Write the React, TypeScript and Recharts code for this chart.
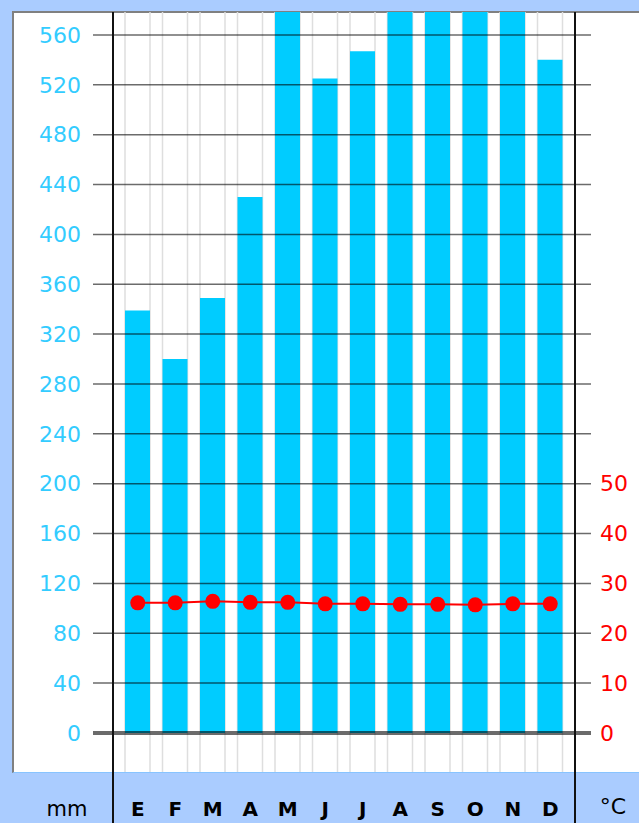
import React from 'react';
import { ComposedChart, Bar, Line, XAxis, YAxis, ReferenceLine } from 'recharts';

const months = ['E', 'F', 'M', 'A', 'M', 'J', 'J', 'A', 'S', 'O', 'N', 'D'];
const rainfall = [339, 300, 349, 430, 640, 525, 547, 620, 650, 700, 660, 540];
const temperature = [26.1, 26.1, 26.4, 26.2, 26.2, 25.9, 25.9, 25.8, 25.8, 25.7, 25.9, 25.9];
const mmTicks = [0, 40, 80, 120, 160, 200, 240, 280, 320, 360, 400, 440, 480, 520, 560];
const tempTicks = [0, 10, 20, 30, 40, 50];
const mmDomain = [-31.3, 578.4];
const tempDomain = [-7.825, 144.6];

const data = months.map((m, i) => ({ key: String(i), month: m, rain: rainfall[i], temp: temperature[i] }));

const EdgeLines = (props: any) => {
  const { x, y, width, height } = props;
  return (
    <g>
      <line x1={x} x2={x} y1={y} y2={y + height} stroke="#dedede" strokeWidth={1.5} />
      <line x1={x + width} x2={x + width} y1={y} y2={y + height} stroke="#dedede" strokeWidth={1.5} />
    </g>
  );
};

const FONT = '"DejaVu Sans", Verdana, sans-serif';

export default function App() {
  return (
    <div style={{ position: 'absolute', left: 0, top: 0, width: 639, height: 823, background: '#aaccff', overflow: 'hidden', fontFamily: FONT }}>
      <div style={{ position: 'absolute', left: 12, top: 11, width: 627, height: 762, background: '#fff', borderTop: '2px solid #808080', borderLeft: '2px solid #808080', borderBottom: '1px solid #88c4ff', boxSizing: 'border-box' }} />
      <div style={{ position: 'absolute', left: 0, top: 0 }}>
        <ComposedChart width={639} height={823} data={data} margin={{ top: 12, right: 0, bottom: 0, left: 33 }}>
          <XAxis
            dataKey="key"
            type="category"
            height={51}
            padding={{ left: 26, right: 22 }}
            axisLine={false}
            tickLine={false}
            tickSize={0}
            tickMargin={30}
            interval={0}
            tickFormatter={(v: string) => months[Number(v)]}
            tick={{ fill: '#000', fontSize: 20, fontWeight: 'bold', fontFamily: FONT }}
          />
          <YAxis
            yAxisId="mm"
            orientation="left"
            width={60}
            domain={mmDomain}
            allowDataOverflow
            ticks={mmTicks}
            axisLine={false}
            tickLine={false}
            tickSize={0}
            tickMargin={12}
            tick={{ fill: '#33ccff', fontSize: 22, fontFamily: FONT }}
          />
          <YAxis
            yAxisId="t"
            orientation="right"
            width={48}
            domain={tempDomain}
            allowDataOverflow
            ticks={tempTicks}
            axisLine={false}
            tickLine={false}
            tickSize={0}
            tickMargin={9}
            tick={{ fill: '#ff0000', fontSize: 22, fontFamily: FONT, textAnchor: 'start' }}
          />
          <Bar
            yAxisId="mm"
            dataKey="rain"
            fill="#00ccff"
            barSize={25}
            background={(p: any) => <EdgeLines key={`bg-${p.index}`} {...p} />}
            isAnimationActive={false}
          />
          {mmTicks.map((t) => (
            <ReferenceLine
              key={t}
              yAxisId="mm"
              y={t}
              stroke="rgba(0,0,0,0.58)"
              strokeWidth={t === 0 ? 4 : 1.5}
            />
          ))}
          <Line
            yAxisId="t"
            dataKey="temp"
            stroke="#ff0000"
            strokeWidth={2}
            dot={{ r: 7.5, fill: '#ff0000', stroke: 'none' }}
            activeDot={false}
            isAnimationActive={false}
          />
        </ComposedChart>
      </div>
      <div style={{ position: 'absolute', left: 112, top: 12, width: 464, height: 811, borderLeft: '2px solid #111', borderRight: '2px solid #111', boxSizing: 'border-box', pointerEvents: 'none' }} />
      <div style={{ position: 'absolute', left: 27, width: 80, top: 797, fontSize: 21, lineHeight: '24px', textAlign: 'center', color: '#000' }}>mm</div>
      <div style={{ position: 'absolute', left: 590, width: 46, top: 795, fontSize: 22, lineHeight: '24px', textAlign: 'center', color: '#000' }}>°C</div>
    </div>
  );
}
